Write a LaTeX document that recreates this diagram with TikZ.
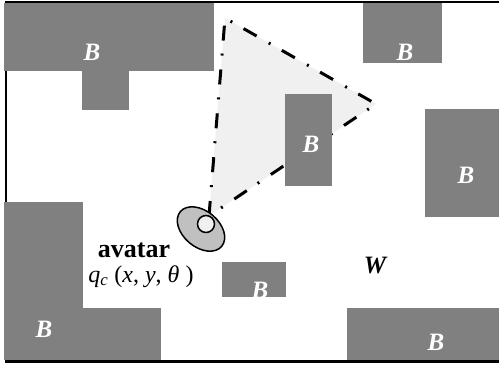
\documentclass[tikz,border=0pt]{standalone}
\usepackage{fontspec}
\setmainfont{Liberation Serif}
\definecolor{blockgray}{HTML}{808080}
\definecolor{fovfill}{HTML}{F0F0F0}
\definecolor{avatarfill}{HTML}{C0C0C0}
\tikzset{
  block/.style={fill=blockgray, draw=none},
  blab/.style={text=white, inner sep=0pt, font=\fontsize{25}{25}\selectfont\bfseries\itshape},
  wlab/.style={text=black, inner sep=0pt, font=\fontsize{25}{25}\selectfont\bfseries\itshape},
  fov/.style={line width=3pt, dash pattern=on 15pt off 14pt on 2pt off 13pt, fill=fovfill, line join=miter},
  frame/.style={line width=2.6pt, draw=black},
  avatarbody/.style={draw=black, line width=1.5pt, fill=avatarfill},
  avatarhead/.style={draw=black, line width=1.5pt, fill=fovfill},
}
\begin{document}
\begin{tikzpicture}[x=1pt,y=-1pt]
\useasboundingbox (0,0) rectangle (499,367);
\fill[white] (0,0) rectangle (499,367);
% frame of the world
\draw[frame] (6,1.8) rectangle (530,361.2);
% field of view
\coordinate (apex) at (225,18);
\coordinate (tip) at (376,104);
\coordinate (eye) at (209,216);
\draw[fov] (eye) -- (apex) -- (tip) -- cycle;
% blocks
\fill[block] (4,3.2) rectangle (214,71);
\fill[block] (82,70) rectangle (129,110);
\fill[block] (363,3.2) rectangle (442,63);
\fill[block] (285,94) rectangle (332,186);
\fill[block] (425,109) rectangle (520,217);
\fill[block] (222,262) rectangle (286,297);
\fill[block] (4,202) rectangle (83,359.6);
\fill[block] (4,308) rectangle (161,359.6);
\fill[block] (347,308) rectangle (520,359.6);
% labels B
\node[blab] (b1) at (92,52) {B};
\node[blab] (b2) at (405,52) {B};
\node[blab] (b3) at (311,144.5) {B};
\node[blab] (b4) at (466,175) {B};
\node[blab] (b5) at (260,290) {B};
\node[blab] (b6) at (44,329) {B};
\node[blab] (b7) at (436,342) {B};
\node[wlab] (w) at (375,265.5) {W};
% avatar
\draw[avatarbody, rotate around={-40:(201,229)}] (201,229) ellipse [x radius=27pt, y radius=18pt];
\draw[avatarhead] (206,224) circle [radius=8.5pt];
\node[anchor=base, inner sep=0pt, font=\fontsize{26}{26}\selectfont\bfseries] (av) at (134,257) {avatar};
\node[anchor=base, inner sep=0pt, font=\fontsize{24}{24}\selectfont] (q) at (141,282) {\textit{q}\textsubscript{\textit{c}} (\textit{x}, \textit{y}, \textit{θ} )};
\end{tikzpicture}
\end{document}
